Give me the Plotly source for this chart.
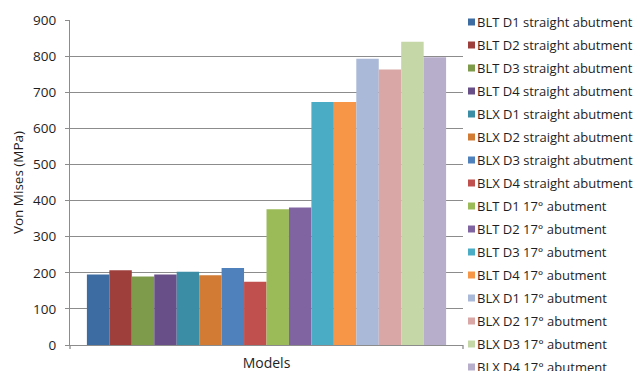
import plotly.graph_objects as go

# Peak von Mises stress for each implant/abutment model
series_names = [
    "BLT D1 straight abutment", "BLT D2 straight abutment",
    "BLT D3 straight abutment", "BLT D4 straight abutment",
    "BLX D1 straight abutment", "BLX D2 straight abutment",
    "BLX D3 straight abutment", "BLX D4 straight abutment",
    "BLT D1 17° abutment", "BLT D2 17° abutment",
    "BLT D3 17° abutment", "BLT D4 17° abutment",
    "BLX D1 17° abutment", "BLX D2 17° abutment",
    "BLX D3 17° abutment", "BLX D4 17° abutment",
]
stress_values = [195, 207, 190, 195, 203, 193, 213, 175,
                 376, 381, 673, 673, 793, 763, 840, 797]
series_colors = [
    "#3D6CA3", "#9E3F3C", "#7E9B4C", "#684F88",
    "#3A8DA4", "#D17B34", "#4F81BD", "#C0504D",
    "#9BBB59", "#8064A2", "#4BACC6", "#F79646",
    "#AAB9D7", "#D8A7A6", "#C5D6A7", "#B7AECB",
]
category = ["Models"]
y_ticks = [0, 100, 200, 300, 400, 500, 600, 700, 800, 900]

FONT = "Open Sans"
GRID = "#8C8C8C"
TEXT = "#1E1E1E"

# plot area in pixels
W, H = 637, 371
L, R, T, B = 70, 463, 20, 345

fig = go.Figure()
for name, val, col in zip(series_names, stress_values, series_colors):
    fig.add_trace(go.Bar(
        x=category, y=[val], name=name,
        marker=dict(color=col, line=dict(width=0)),
        showlegend=False,
    ))

# legend drawn as colored squares + labels to the right of the plot
annotations = []
shapes = []
for i, (name, col) in enumerate(zip(series_names, series_colors)):
    cy = 22 + 23 * i
    yp = (B - cy) / (B - T)
    shapes.append(dict(
        type="rect", xref="paper", yref="paper",
        x0=(468 - L) / (R - L), x1=(475 - L) / (R - L),
        y0=(B - (cy + 3.5)) / (B - T), y1=(B - (cy - 3.5)) / (B - T),
        fillcolor=col, line=dict(width=0),
    ))
    annotations.append(dict(
        xref="paper", yref="paper",
        x=(475 - L) / (R - L), y=yp,
        xanchor="left", yanchor="middle",
        text=name, showarrow=False,
        font=dict(family=FONT, size=13, color=TEXT),
    ))

# category-axis tick marks at both ends of the plot area
for xp in (0, 1):
    shapes.append(dict(
        type="line", xref="paper", yref="paper",
        x0=xp, x1=xp, y0=0, y1=-4 / (B - T),
        line=dict(color=GRID, width=1.3),
    ))

fig.update_layout(
    width=W, height=H,
    margin=dict(l=L, r=W - R, t=T, b=H - B),
    paper_bgcolor="white", plot_bgcolor="white",
    barmode="group", bargap=0.086, bargroupgap=0,
    font=dict(family=FONT, size=13.5, color=TEXT),
    annotations=annotations, shapes=shapes,
    xaxis=dict(
        showline=True, linecolor=GRID, linewidth=1.3,
        showgrid=False, ticks="", ticklabelstandoff=5,
        tickfont=dict(size=14), automargin=False,
    ),
    yaxis=dict(
        range=[0, 900], tickvals=y_ticks,
        showline=True, linecolor=GRID, linewidth=1.3,
        showgrid=True, gridcolor=GRID, gridwidth=1.3,
        ticks="outside", ticklen=4, tickcolor=GRID, tickwidth=1.3,
        ticklabelstandoff=6, automargin=False,
        tickfont=dict(size=13.5),
        title=dict(text="Von Mises (MPa)", standoff=6,
                   font=dict(size=13.5)),
        zeroline=False,
    ),
)

fig.write_html("out.html")
